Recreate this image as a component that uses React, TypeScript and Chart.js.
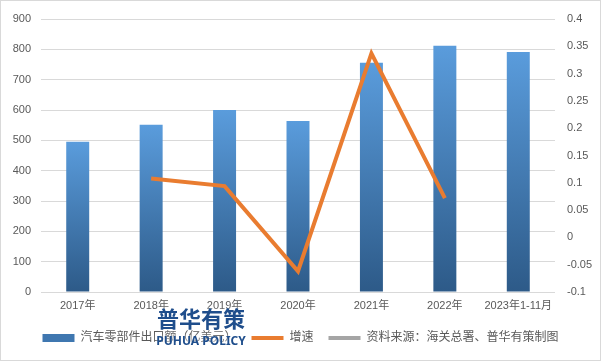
import React, { useEffect, useRef } from "react";
import { Chart, registerables } from "chart.js";

Chart.register(...registerables);

const categories = ["2017年", "2018年", "2019年", "2020年", "2021年", "2022年", "2023年1-11月"];
const exportValues = [495, 551, 600, 564, 756, 812, 791];
const growthValues: (number | null)[] = [null, 0.108, 0.094, -0.062, 0.337, 0.072, null];
const barLabel = "汽车零部件出口额（亿美元）";
const lineLabel = "增速";
const sourceLabel = "资料来源：海关总署、普华有策制图";
const watermarkCn = "普华有策";
const watermarkEn = "PUHUA POLICY";

const FONT = "'Liberation Sans', 'Noto Sans CJK SC', sans-serif";
const TEXT = "#595959";
const GRID = "#D9D9D9";
const ORANGE = "#E97C30";

const framePlugin = {
  id: "frame",
  beforeDraw(chart: any) {
    const c = chart.ctx;
    c.save();
    c.fillStyle = "#ffffff";
    c.fillRect(0, 0, chart.width, chart.height);
    c.strokeStyle = "#D9D9D9";
    c.lineWidth = 1;
    c.strokeRect(0.5, 0.5, chart.width - 1, chart.height - 1);
    c.restore();
  },
  afterDraw(chart: any) {
    const c = chart.ctx;
    c.save();
    c.textAlign = "center";
    c.textBaseline = "middle";
    c.shadowColor = "rgba(255,255,255,0.9)";
    c.shadowBlur = 4;
    c.fillStyle = "#1F4E8C";
    c.font = "bold 22px 'Noto Sans CJK SC', sans-serif";
    c.fillText(watermarkCn, 201, 319);
    c.font = "bold 12px 'Noto Sans', 'Liberation Sans', sans-serif";
    c.fillText(watermarkEn, 201, 342);
    c.restore();
  },
};

export default function App() {
  const ref = useRef<HTMLCanvasElement | null>(null);
  useEffect(() => {
    if (!ref.current) return;
    const chart = new Chart(ref.current, {
      type: "bar",
      data: {
        labels: categories,
        datasets: [
          {
            type: "line",
            label: lineLabel,
            data: growthValues,
            yAxisID: "y1",
            borderColor: ORANGE,
            backgroundColor: ORANGE,
            borderWidth: 4,
            pointRadius: 0,
            tension: 0,
            borderJoinStyle: "miter",
            order: 0,
          } as any,
          {
            type: "bar",
            label: barLabel,
            data: exportValues,
            yAxisID: "y",
            barPercentage: 0.313,
            categoryPercentage: 1,
            order: 1,
            backgroundColor: (ctx: any) => {
              const chart = ctx.chart;
              const ys = chart.scales?.y;
              if (!chart.chartArea || !ys || ctx.type !== "data") return "#4A86C5";
              const v = ctx.raw as number;
              const top = ys.getPixelForValue(v);
              const bottom = ys.getPixelForValue(0);
              const g = chart.ctx.createLinearGradient(0, top, 0, bottom);
              g.addColorStop(0, "#5A9CDC");
              g.addColorStop(1, "#2D5A88");
              return g;
            },
          } as any,
        ],
      },
      options: {
        animation: false,
        responsive: false,
        layout: { padding: { top: 19, left: 0, right: 0, bottom: 7 } },
        plugins: {
          tooltip: { enabled: false },
          legend: {
            position: "bottom",
            labels: {
              usePointStyle: true,
              pointStyleWidth: 32,
              boxHeight: 8,
              padding: 15,
              color: TEXT,
              font: { family: FONT, size: 12 },
              generateLabels: () => [
                { text: barLabel, fillStyle: "#3F77B0", strokeStyle: "#3F77B0", lineWidth: 0, pointStyle: "rect", fontColor: TEXT, hidden: false, datasetIndex: 1 },
                { text: lineLabel, fillStyle: ORANGE, strokeStyle: ORANGE, lineWidth: 4, pointStyle: "line", fontColor: TEXT, hidden: false, datasetIndex: 0 },
                { text: sourceLabel, fillStyle: "#A5A5A5", strokeStyle: "#A5A5A5", lineWidth: 4, pointStyle: "line", fontColor: TEXT, hidden: false },
              ] as any,
            },
          },
        },
        scales: {
          x: {
            grid: { display: false, drawTicks: false },
            border: { display: false },
            ticks: { color: TEXT, font: { family: FONT, size: 11 }, autoSkip: false, maxRotation: 0, padding: 7 },
            afterFit: (s: any) => { s.height = 25; },
          },
          y: {
            position: "left",
            min: 0,
            max: 900,
            ticks: { stepSize: 100, color: TEXT, font: { family: FONT, size: 11 }, padding: 10 },
            grid: { color: GRID, lineWidth: 1, drawTicks: false },
            border: { display: false },
            afterFit: (s: any) => { s.width = 41; },
          },
          y1: {
            position: "right",
            min: -0.1,
            max: 0.4,
            ticks: {
              stepSize: 0.05,
              color: TEXT,
              font: { family: FONT, size: 11 },
              padding: 12,
              callback: (v: any) => String(+Number(v).toFixed(2)),
            },
            grid: { drawOnChartArea: false, drawTicks: false },
            border: { display: false },
            afterFit: (s: any) => { s.width = 46; },
          },
        },
      },
      plugins: [framePlugin],
    });
    return () => chart.destroy();
  }, []);
  return (
    <div style={{ position: "absolute", left: 0, top: 0, width: 601, height: 361 }}>
      <canvas ref={ref} width={601} height={361} style={{ width: 601, height: 361, display: "block" }} />
    </div>
  );
}
